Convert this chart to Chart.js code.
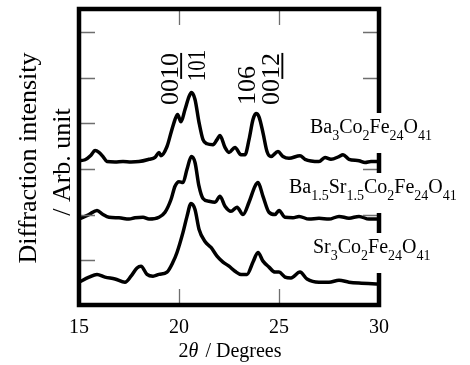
<!DOCTYPE html>
<html><head><meta charset="utf-8">
<script src="https://cdn.jsdelivr.net/npm/chart.js@4/dist/chart.umd.min.js"></script>
<style>html,body{margin:0;padding:0;background:#fff}#wrap{width:470px;height:365px}</style>
</head><body><div id="wrap"><canvas id="c" width="470" height="365"></canvas></div>
<script>
// ---- data ----
const baTheta = [15.0,15.3,15.6,15.8,16.0,16.2,16.4,16.8,17.2,17.6,18.0,18.5,18.8,19.0,19.1,19.4,19.6,19.8,19.93,20.1,20.3,20.5,20.62,20.8,21.0,21.2,21.4,21.7,21.9,22.05,22.3,22.5,22.8,23.1,23.3,23.5,23.7,23.85,24.0,24.2,24.4,24.6,24.95,25.2,25.5,26.05,26.3,27.0,27.3,27.6,28.0,28.2,28.5,29.0,29.3,29.6,30.0];
const baIntensity = [3.18,3.20,3.30,3.40,3.36,3.27,3.16,3.15,3.16,3.15,3.16,3.21,3.25,3.36,3.29,3.49,3.79,4.08,4.19,4.03,4.30,4.58,4.67,4.52,4.02,3.64,3.55,3.53,3.64,3.73,3.47,3.36,3.47,3.31,3.31,3.64,4.08,4.21,4.14,3.79,3.38,3.27,3.38,3.27,3.23,3.29,3.21,3.16,3.25,3.21,3.27,3.31,3.21,3.18,3.14,3.16,3.16];

const baSrTheta = [15.0,15.5,15.9,16.2,16.5,17.0,17.5,17.8,18.2,18.5,19.0,19.3,19.6,19.8,20.0,20.2,20.4,20.62,20.8,21.0,21.2,21.5,21.8,22.05,22.3,22.6,22.9,23.2,23.5,23.8,23.95,24.2,24.5,24.8,25.0,25.3,25.7,26.0,26.5,27.0,27.5,28.0,28.5,29.0,29.5,30.0];
const baSrIntensity = [1.90,2.00,2.09,2.00,1.94,1.93,1.90,1.93,1.94,1.90,1.94,2.05,2.33,2.62,2.72,2.70,2.99,3.27,3.14,2.62,2.35,2.29,2.27,2.40,2.18,2.07,2.16,2.00,2.27,2.62,2.70,2.40,2.05,2.00,2.09,1.94,1.93,1.96,1.90,1.92,1.90,1.96,1.92,1.96,1.90,1.90];

const srTheta = [15.0,15.5,15.9,16.3,16.8,17.3,17.6,17.9,18.1,18.4,18.7,19.0,19.4,19.7,19.9,20.2,20.4,20.6,20.8,21.0,21.3,21.6,21.9,22.2,22.5,22.8,23.1,23.4,23.7,23.95,24.2,24.5,24.8,25.0,25.3,25.6,26.05,26.4,27.0,27.5,28.0,28.5,29.0,30.0];
const srIntensity = [0.52,0.63,0.69,0.63,0.59,0.52,0.65,0.83,0.87,0.69,0.65,0.69,0.74,0.96,1.17,1.61,1.96,2.24,2.11,1.68,1.41,1.28,1.09,0.96,0.87,0.76,0.69,0.69,0.96,1.17,0.98,0.85,0.74,0.74,0.63,0.61,0.74,0.59,0.52,0.52,0.56,0.52,0.50,0.48];

const xTickValues = [15, 20, 25, 30];
const yTickValues = [1, 2, 3, 4, 5, 6];
// formula labels: [text, isSubscript]
const baLabel = [["Ba",0],["3",1],["Co",0],["2",1],["Fe",0],["24",1],["O",0],["41",1]];
const baSrLabel = [["Ba",0],["1.5",1],["Sr",0],["1.5",1],["Co",0],["2",1],["Fe",0],["24",1],["O",0],["41",1]];
const srLabel = [["Sr",0],["3",1],["Co",0],["2",1],["Fe",0],["24",1],["O",0],["41",1]];
const yTitleLines = ["Diffraction intensity", "/ Arb. unit"];
const xTitleParts = [["2",0],["\u03B8",1],[" / Degrees",0]];
// peak labels: [text, underlined from char index, x(deg), y(value start), compress]
const peakLabels = [["0010",2,19.93,4.40,1],["101",-1,21.3,4.92,0.8],["106",-1,23.8,4.40,1],["0012",2,24.99,4.40,1]];

function pts(xs, ys){ return xs.map((x,i)=>({x:x, y:ys[i]})); }

const SERIF = '"Liberation Serif", "Times New Roman", serif';

const decor = {
  id: 'decor',
  afterDatasetsDraw(chart){
    const ctx = chart.ctx, a = chart.chartArea;
    const xs = chart.scales.x, ys = chart.scales.y;
    ctx.save();
    // inward ticks
    ctx.strokeStyle = '#6e6e6e'; ctx.lineWidth = 1.3;
    ctx.beginPath();
    xTickValues.forEach(v=>{
      const px = Math.round(xs.getPixelForValue(v))+0.5;
      if (v>15 && v<30){ ctx.moveTo(px,a.top); ctx.lineTo(px,a.top+16); ctx.moveTo(px,a.bottom); ctx.lineTo(px,a.bottom-16); }
    });
    yTickValues.forEach(v=>{
      const py = Math.round(ys.getPixelForValue(v))+0.5;
      ctx.moveTo(a.left,py); ctx.lineTo(a.left+16,py);
      ctx.moveTo(a.right,py); ctx.lineTo(a.right-16,py);
    });
    ctx.stroke();
    // frame
    ctx.strokeStyle = '#000'; ctx.lineWidth = 4.5;
    ctx.strokeRect(a.left, a.top, a.right-a.left, a.bottom-a.top);
    // x tick labels
    ctx.fillStyle = '#000';
    ctx.font = '20px ' + SERIF; ctx.textAlign = 'center'; ctx.textBaseline = 'alphabetic';
    xTickValues.forEach(v=>{ ctx.fillText(String(v), xs.getPixelForValue(v), 333); });
    // x title
    let total = 0;
    const fontOf = it => (it ? 'italic 20px ' : '20px ') + SERIF;
    xTitleParts.forEach(p=>{ ctx.font = fontOf(p[1]); total += ctx.measureText(p[0]).width; });
    let cx = (a.left + a.right)/2 - total/2;
    ctx.textAlign = 'left';
    xTitleParts.forEach(p=>{ ctx.font = fontOf(p[1]); ctx.fillText(p[0], cx, 357); cx += ctx.measureText(p[0]).width + (p[1]?2:0); });
    // y title
    ctx.font = '26px ' + SERIF; ctx.textAlign = 'center';
    [[36,158],[70,162]].forEach((pos,i)=>{
      ctx.save(); ctx.translate(pos[0], pos[1]); ctx.rotate(-Math.PI/2);
      ctx.fillText(yTitleLines[i], 0, 0); ctx.restore();
    });
    // peak labels
    ctx.font = '26px ' + SERIF; ctx.textAlign = 'left';
    peakLabels.forEach(pl=>{
      const bx = xs.getPixelForValue(pl[2]), by = ys.getPixelForValue(pl[3]);
      ctx.save(); ctx.translate(bx, by); ctx.rotate(-Math.PI/2); ctx.scale(pl[4],1);
      ctx.fillText(pl[0], 0, 0);
      if (pl[1] >= 0){
        const w0 = ctx.measureText(pl[0].slice(0,pl[1])).width, w1 = ctx.measureText(pl[0]).width;
        ctx.fillRect(w0, 2.6, w1-w0, 1.9);
      }
      ctx.restore();
    });
    // series labels with white boxes
    const drawFormula = (parts, x, base) => {
      let w = 0;
      parts.forEach(p=>{ ctx.font = (p[1]?'14px ':'20px ') + SERIF; w += ctx.measureText(p[0]).width; });
      ctx.fillStyle = '#fff'; ctx.fillRect(x-3, base-20, w+6, 40);
      ctx.fillStyle = '#000'; let cx2 = x;
      parts.forEach(p=>{ ctx.font = (p[1]?'14px ':'20px ') + SERIF; ctx.fillText(p[0], cx2, p[1]? base+7 : base); cx2 += ctx.measureText(p[0]).width; });
    };
    ctx.textAlign = 'left';
    drawFormula(baLabel, 310, 133);
    drawFormula(baSrLabel, 289, 193);
    drawFormula(srLabel, 313, 253);
    ctx.restore();
  }
};

const common = {borderColor:'#000', borderWidth:3.5, pointRadius:0, fill:false, cubicInterpolationMode:'monotone'};
new Chart(document.getElementById('c'), {
  type: 'line',
  data: { datasets: [
    Object.assign({label:'Ba3Co2Fe24O41', data: pts(baTheta, baIntensity)}, common),
    Object.assign({label:'Ba1.5Sr1.5Co2Fe24O41', data: pts(baSrTheta, baSrIntensity)}, common),
    Object.assign({label:'Sr3Co2Fe24O41', data: pts(srTheta, srIntensity)}, common)
  ]},
  options: {
    responsive:false, animation:false, devicePixelRatio:1,
    layout:{ padding:{ left:79, right:91, top:9, bottom:60 } },
    plugins:{ legend:{display:false}, tooltip:{enabled:false} },
    scales:{
      x:{ type:'linear', min:15, max:30, display:false },
      y:{ type:'linear', min:0.02, max:6.5, display:false }
    }
  },
  plugins:[decor]
});
</script>
</body></html>
